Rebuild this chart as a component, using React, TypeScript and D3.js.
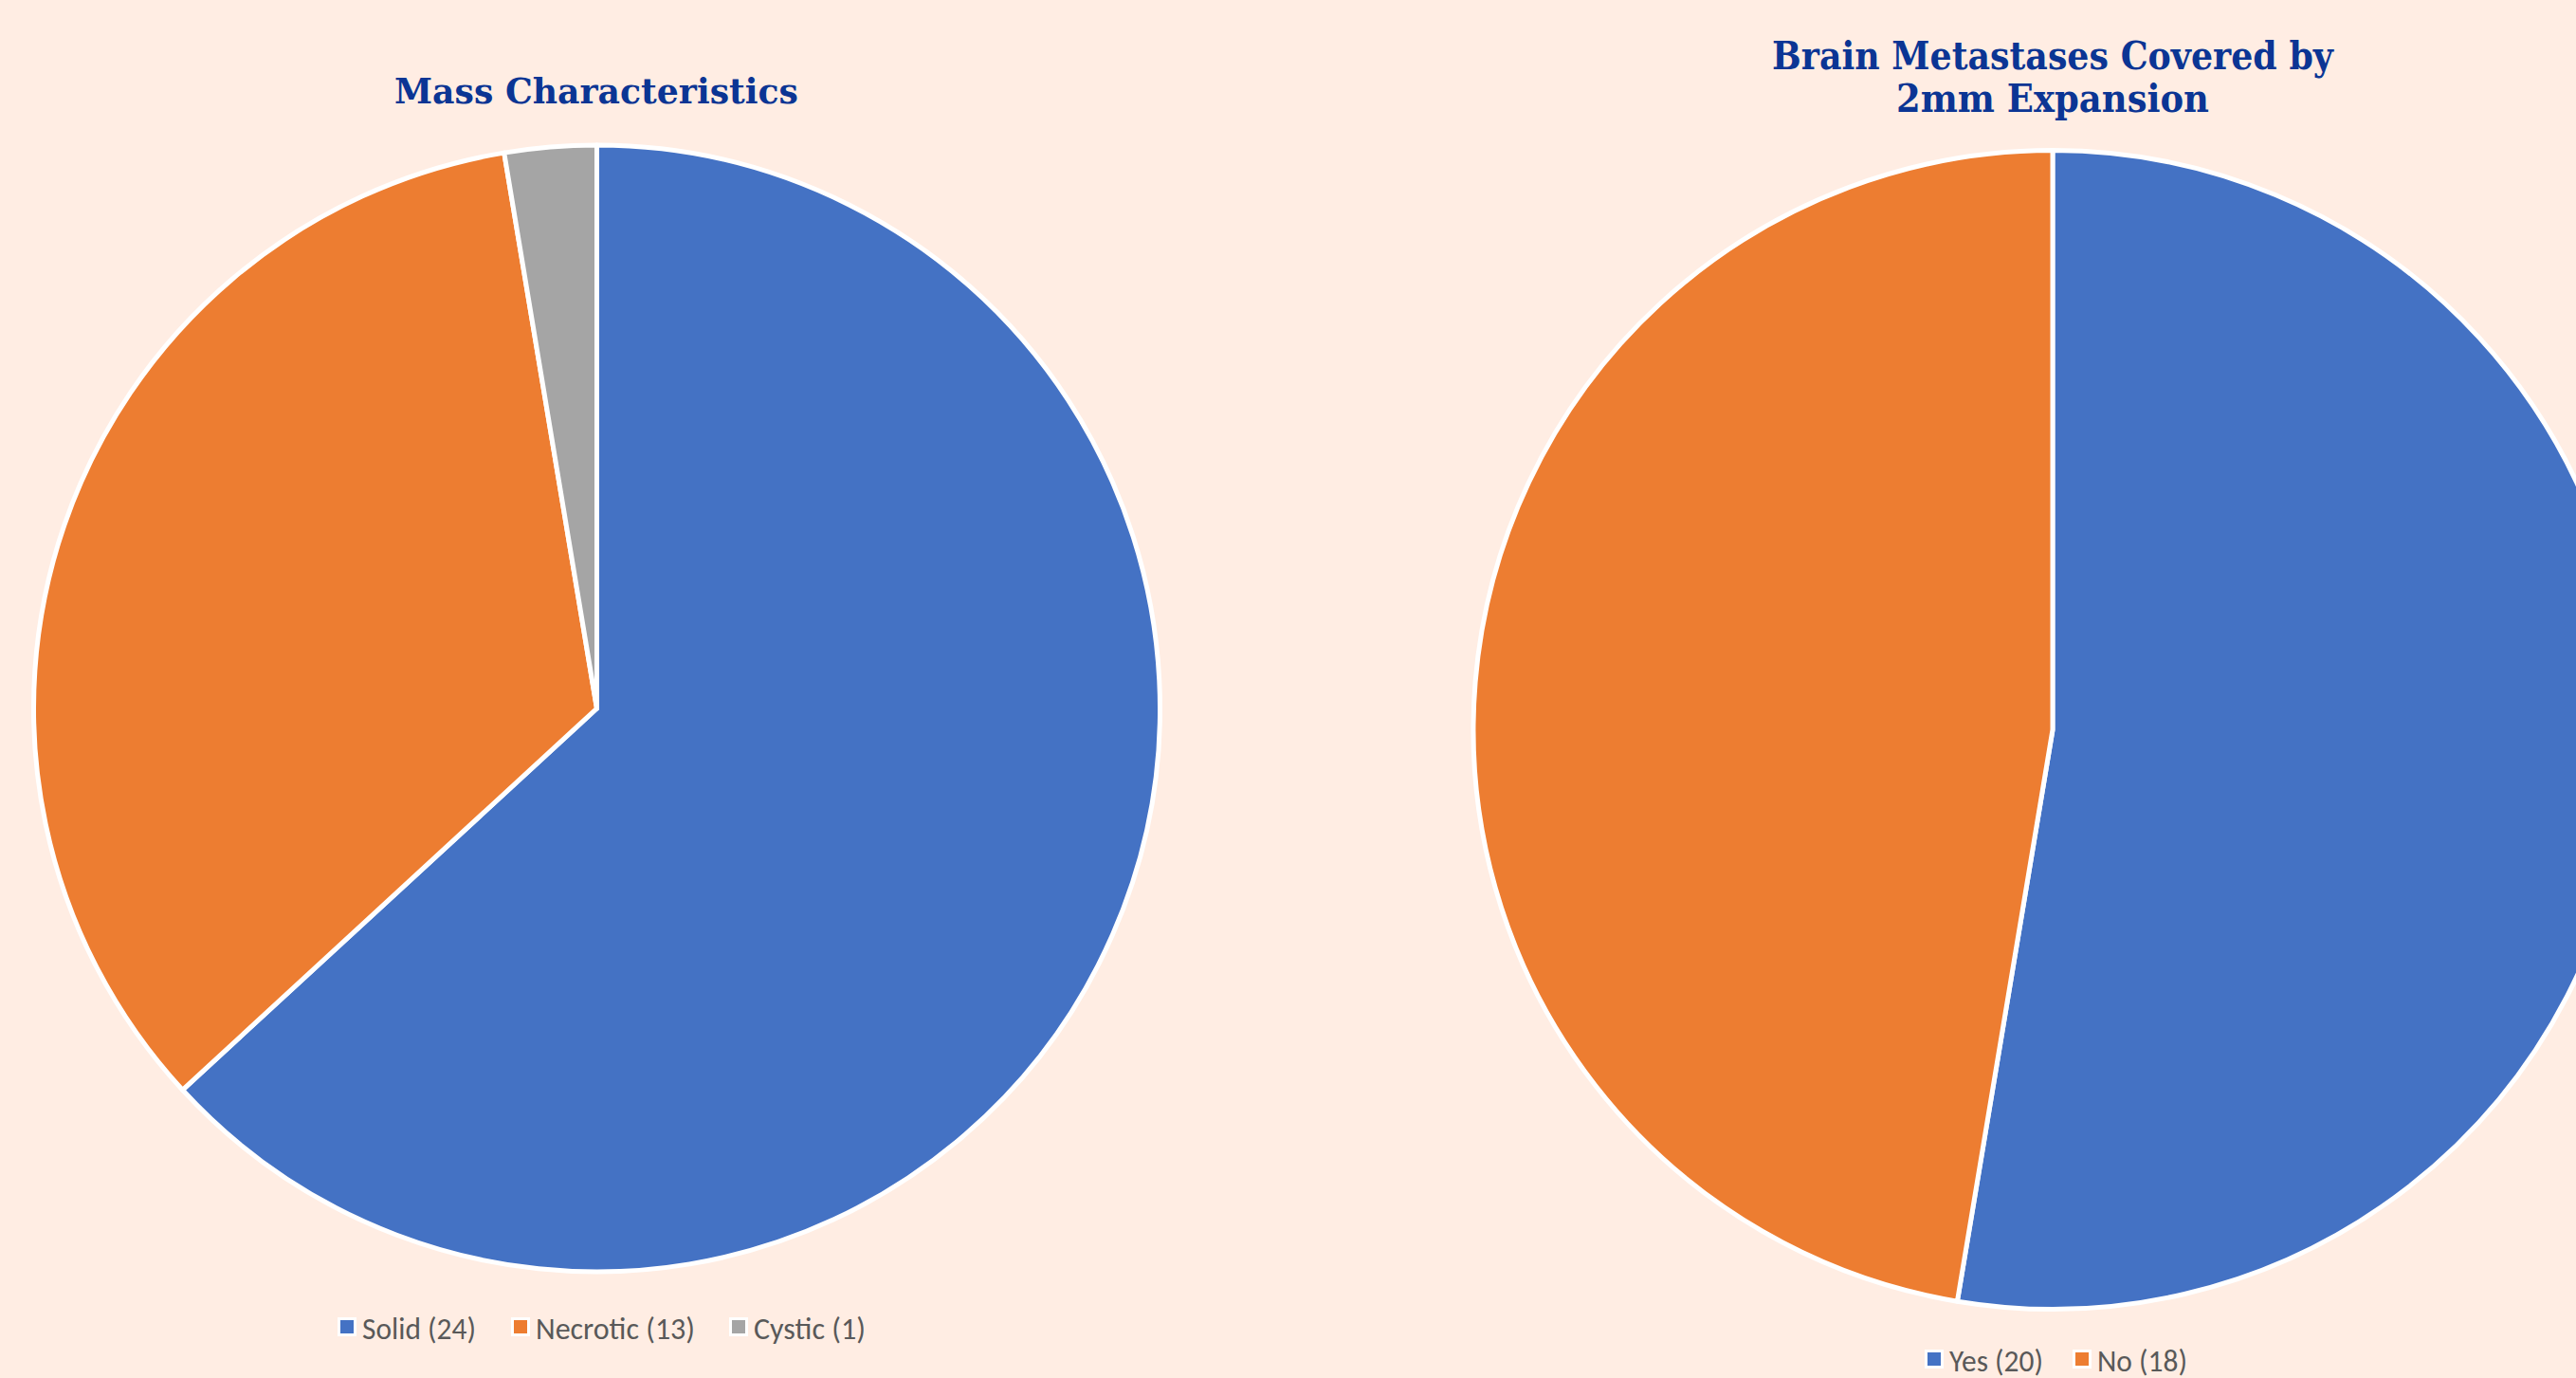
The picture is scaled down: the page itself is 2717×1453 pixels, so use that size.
import React from "react";
import * as d3 from "d3";

const massCategories = ["Solid", "Necrotic", "Cystic"];
const massValues = [24, 13, 1];
const coverCategories = ["Yes", "No"];
const coverValues = [20, 18];
const colors = ["#4472C4", "#ED7D31", "#A5A5A5"];

const W = 2717;
const H = 1453;
const BG = "#FFEDE3";
const TITLE = "#0B3594";

function Pie({ cx, cy, r, values }: { cx: number; cy: number; r: number; values: number[] }) {
  const pie = d3.pie<number>().sort(null).value((d) => d);
  const arc = d3.arc<d3.PieArcDatum<number>>().innerRadius(0).outerRadius(r);
  const arcs = pie(values);
  return (
    <g transform={`translate(${cx},${cy})`}>
      {arcs.map((a, i) => (
        <path key={i} d={arc(a) || ""} fill={colors[i]} stroke="#FFFFFF" strokeWidth={5} strokeLinejoin="round" />
      ))}
    </g>
  );
}

function Legend({ xs, y, items, widths }: { xs: number[]; y: number; items: string[]; widths: number[] }) {
  return (
    <g>
      {items.map((t, i) => (
        <g key={i}>
          <rect x={xs[i] - 3} y={y - 23} width={20} height={20} fill="#FFFFFF" />
          <rect x={xs[i]} y={y - 20} width={14} height={14} fill={colors[i]} />
          <text
            x={xs[i] + 23}
            y={y}
            fontFamily="Carlito, 'Liberation Sans Narrow', 'Open Sans', sans-serif"
            fontSize={32}
            fill="#595959"
            textLength={widths[i]}
            lengthAdjust="spacingAndGlyphs"
          >
            {t}
          </text>
        </g>
      ))}
    </g>
  );
}

export default function App() {
  const massLabels = massCategories.map((c, i) => `${c} (${massValues[i]})`);
  const coverLabels = coverCategories.map((c, i) => `${c} (${coverValues[i]})`);
  return (
    <div style={{ position: "absolute", left: 0, top: 0, width: W, height: H, overflow: "hidden" }}>
      <svg width={W} height={H} style={{ display: "block" }}>
        <rect x={0} y={0} width={W} height={H} fill={BG} />
        <text
          x={629}
          y={109}
          textAnchor="middle"
          fontFamily="'DejaVu Serif', Georgia, serif"
          fontWeight="bold"
          fontSize={37}
          fill={TITLE}
          textLength={426}
          lengthAdjust="spacingAndGlyphs"
        >
          Mass Characteristics
        </text>
        <text
          x={2165}
          y={73}
          textAnchor="middle"
          fontFamily="'DejaVu Serif', Georgia, serif"
          fontWeight="bold"
          fontSize={41}
          fill={TITLE}
          textLength={592}
          lengthAdjust="spacingAndGlyphs"
        >
          Brain Metastases Covered by
        </text>
        <text
          x={2165}
          y={118}
          textAnchor="middle"
          fontFamily="'DejaVu Serif', Georgia, serif"
          fontWeight="bold"
          fontSize={41}
          fill={TITLE}
          textLength={330}
          lengthAdjust="spacingAndGlyphs"
        >
          2mm Expansion
        </text>
        <Pie cx={629.5} cy={747} r={594} values={massValues} />
        <Pie cx={2165} cy={769.5} r={611} values={coverValues} />
        <Legend xs={[359, 542, 772]} y={1412} items={massLabels} widths={[120, 168, 118]} />
        <Legend xs={[2033, 2189]} y={1446} items={coverLabels} widths={[99, 95]} />
      </svg>
    </div>
  );
}
